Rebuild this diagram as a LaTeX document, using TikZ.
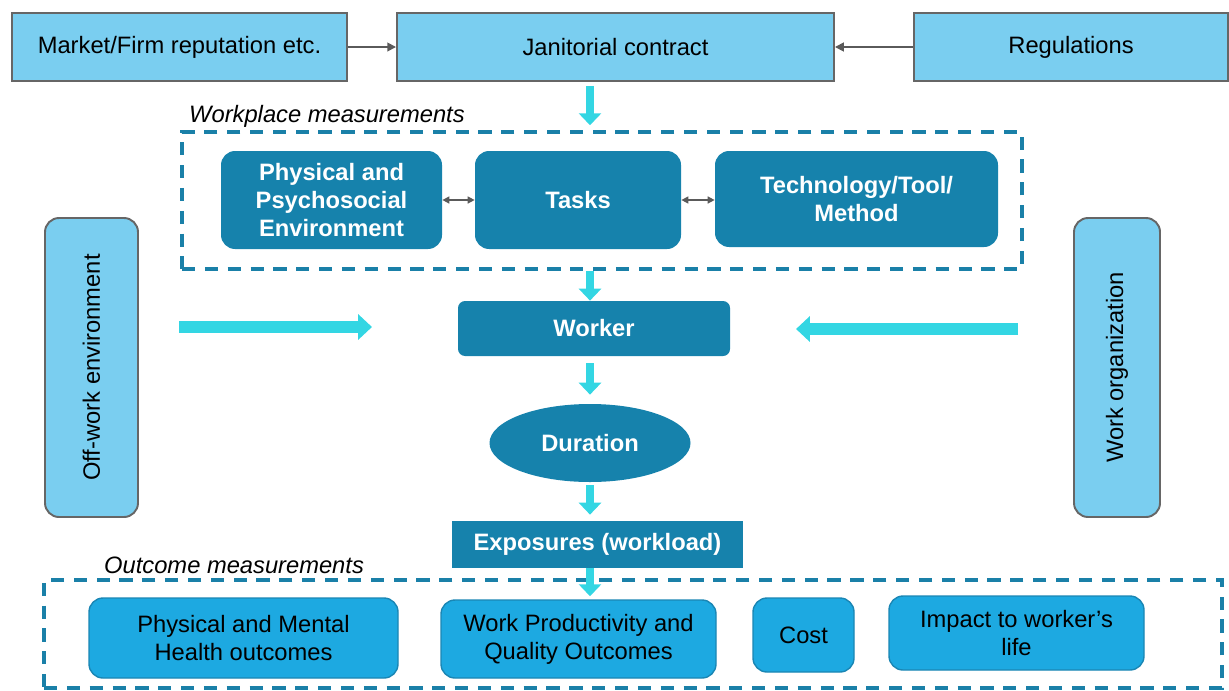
\documentclass[tikz,border=0pt]{standalone}
\usepackage{fontspec}
\setmainfont{Liberation Sans}
\usetikzlibrary{arrows.meta, shapes.geometric}

\definecolor{skyfill}{HTML}{7ACEF0}
\definecolor{edgegray}{HTML}{666666}
\definecolor{tealfill}{HTML}{1682AC}
\definecolor{resultfill}{HTML}{1DA9E1}
\definecolor{resultedge}{HTML}{1A86B4}
\definecolor{dashblue}{HTML}{1A80A8}
\definecolor{linkgray}{HTML}{5A5A5A}
\definecolor{flowcyan}{HTML}{33D6E3}

\newlength\pxu
\setlength\pxu{0.02cm}

\begin{document}
\begin{tikzpicture}[
    x=0.02cm, y=-0.02cm,
    font=\fontsize{13.5}{16}\selectfont,
    outer box/.style={draw=edgegray, line width=1.1pt, fill=skyfill, text=black, inner sep=0pt, align=center},
    work box/.style={fill=tealfill, text=white, font=\fontsize{13.5}{16}\selectfont\bfseries,
        rounded corners=8pt, align=center, inner sep=0pt},
    result box/.style={draw=resultedge, line width=0.8pt, fill=resultfill, text=black,
        rounded corners=8pt, align=center, inner sep=0pt},
    group box/.style={draw=dashblue, line width=2pt, dash pattern=on 7.5pt off 5.5pt, inner sep=0pt},
    link/.style={-{Triangle[length=5pt,width=5pt]}, draw=linkgray, line width=1pt},
    both link/.style={{Triangle[length=4pt,width=4pt]}-{Triangle[length=4pt,width=4pt]}, draw=linkgray, line width=0.8pt},
    flow/.style={-{Triangle[length=6.8pt,width=12.5pt]}, draw=flowcyan, line width=5.1pt},
    wide flow/.style={-{Triangle[length=7.9pt,width=14.2pt]}, draw=flowcyan, line width=6.8pt}
]
    \useasboundingbox (0,0) rectangle (1229,690);

    % top row
    \node[outer box, minimum width=335\pxu, minimum height=68\pxu] (market) at (179.5,47) {Market/Firm reputation etc.};
    \node[outer box, minimum width=437\pxu, minimum height=68\pxu] (contract) at (615.5,47) {Janitorial contract};
    \node[outer box, minimum width=314\pxu, minimum height=68\pxu] (rules) at (1071,47) {Regulations};

    \draw[link] (market) -- (contract);
    \draw[link] (rules) -- (contract);

    % workplace measurements
    \node[group box, minimum width=840\pxu, minimum height=137\pxu] (wpgroup) at (602,200.5) {};
    \node[anchor=west, font=\fontsize{13.5}{16}\selectfont\itshape] (wplabel) at (183,116) {Workplace measurements};

    \node[work box, minimum width=221\pxu, minimum height=98\pxu] (env) at (331.5,200) {Physical and\\Psychosocial\\Environment};
    \node[work box, minimum width=206\pxu, minimum height=98\pxu] (tasks) at (578,200) {Tasks};
    \node[work box, minimum width=283\pxu, minimum height=96\pxu] (tech) at (856.5,199) {Technology/Tool/\\Method};

    \draw[both link] (env) -- (tasks);
    \draw[both link] (tasks) -- (tech.west |- tasks);

    % side factors
    \node[outer box, rounded corners=8pt, rotate=90, minimum width=299\pxu, minimum height=93\pxu] (offwork) at (91.5,367.5) {Off-work environment};
    \node[outer box, rounded corners=8pt, rotate=90, minimum width=299\pxu, minimum height=86\pxu] (worg) at (1117,367.5) {Work organization};

    % chain
    \node[work box, rounded corners=4pt, minimum width=272\pxu, minimum height=55\pxu] (worker) at (594,328.5) {Worker};
    \node[work box, ellipse, minimum width=201\pxu, minimum height=78\pxu] (duration) at (590,443) {Duration};
    \node[work box, rounded corners=0pt, minimum width=291\pxu, minimum height=47\pxu] (expo) at (597.5,544.5) {Exposures (workload)};

    \coordinate (offtail) at (179,327);
    \coordinate (offhead) at (372,327);
    \coordinate (worgtail) at (1018,329);
    \coordinate (worghead) at (796,329);
    \draw[wide flow] (offtail) -- (offhead);
    \draw[wide flow] (worgtail) -- (worghead);

    % outcome measurements
    \node[group box, minimum width=1178\pxu, minimum height=108\pxu] (outgroup) at (633,634) {};
    \node[anchor=west, font=\fontsize{13.5}{16}\selectfont\itshape] (outlabel) at (98,565) {Outcome measurements};

    \node[result box, minimum width=309\pxu, minimum height=80\pxu] (health) at (243.5,638) {Physical and Mental\\Health outcomes};
    \node[result box, minimum width=275\pxu, minimum height=78\pxu] (quality) at (578.5,639) {Work Productivity and\\Quality Outcomes};
    \node[result box, minimum width=101\pxu, minimum height=74\pxu] (cost) at (803.5,635) {Cost};
    \node[result box, minimum width=255\pxu, minimum height=74\pxu] (impact) at (1016.5,633) {Impact to worker's\\life};

    % block arrows down the middle
    \draw[flow, shorten <=4\pxu, shorten >=5\pxu] (contract.south -| duration) -- (wpgroup.north -| duration);
    \draw[flow] (wpgroup.south -| duration) -- (worker.north -| duration);
    \draw[flow, shorten <=7\pxu, shorten >=9\pxu] (worker.south -| duration) -- (duration.north);
    \draw[flow, shorten <=3\pxu, shorten >=6\pxu] (duration.south) -- (expo.north -| duration);
    \draw[flow, shorten >=-18\pxu] (expo.south -| duration) -- (outgroup.north -| duration);

\end{tikzpicture}
\end{document}
